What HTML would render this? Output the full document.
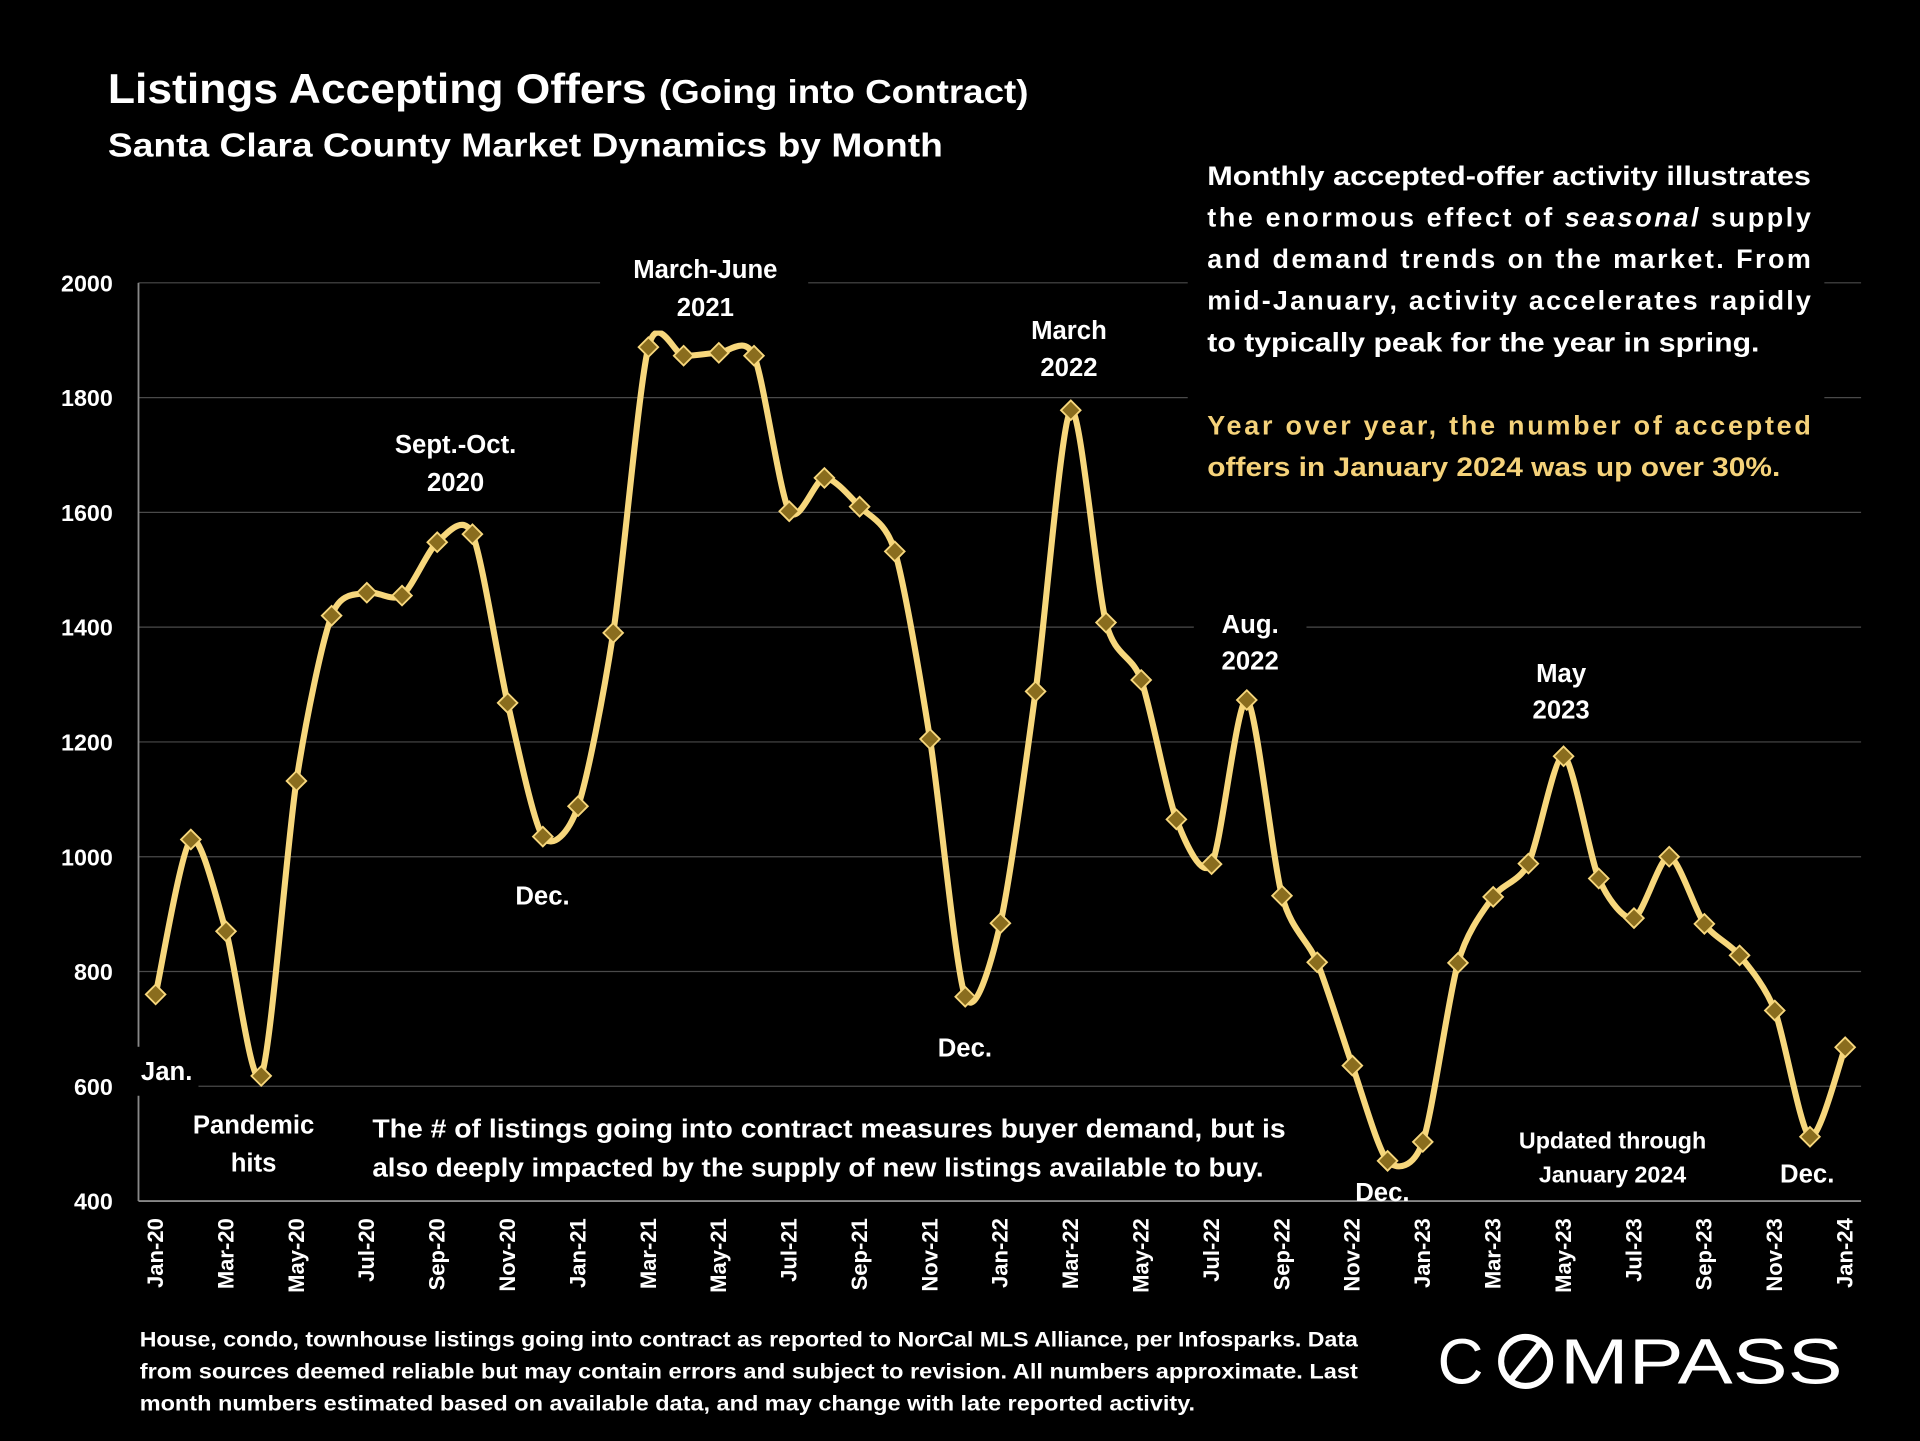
<!DOCTYPE html>
<html><head><meta charset="utf-8">
<style>
html,body{margin:0;padding:0;background:#000;}
svg{display:block;}
text{font-family:"Liberation Sans",sans-serif;font-weight:bold;fill:#fff;}
</style></head>
<body>
<svg id="chart" width="1920" height="1441" viewBox="0 0 1568 1177" xmlns="http://www.w3.org/2000/svg">
<rect width="1568" height="1177" fill="#000"/>
<text x="88" y="84" font-size="34"><tspan textLength="440" lengthAdjust="spacingAndGlyphs">Listings Accepting Offers</tspan><tspan x="538" font-size="27" textLength="302" lengthAdjust="spacingAndGlyphs">(Going into Contract)</tspan></text>
<text x="88" y="128" font-size="27" textLength="682" lengthAdjust="spacingAndGlyphs">Santa Clara County Market Dynamics by Month</text>
<g id="grid"></g>
<g id="yaxis"></g>
<g id="xaxis"></g>
<g id="series"></g>
<g font-size="21" text-anchor="middle">
 <rect x="490" y="200" width="170" height="70" fill="#000"/>
 <text x="576" y="227">March-June</text><text x="576" y="258">2021</text>
 <rect x="300" y="345" width="145" height="65" fill="#000"/>
 <text x="372" y="370">Sept.-Oct.</text><text x="372" y="401">2020</text>
 <rect x="820" y="250" width="110" height="65" fill="#000"/>
 <text x="873" y="277">March</text><text x="873" y="307">2022</text>
 <rect x="975" y="492" width="92" height="65" fill="#000"/>
 <text x="1021" y="517">Aug.</text><text x="1021" y="547">2022</text>
 <rect x="1235" y="532" width="80" height="65" fill="#000"/>
 <text x="1275" y="557">May</text><text x="1275" y="587">2023</text>
 <text x="443" y="739">Dec.</text>
 <text x="788" y="863">Dec.</text>
 <rect x="112" y="855" width="50" height="40" fill="#000"/>
 <text x="136" y="882">Jan.</text>
 <text x="207" y="926">Pandemic</text><text x="207" y="957">hits</text>
 <text x="1129" y="981">Dec.</text>
 <text x="1476" y="966">Dec.</text>
 <text x="1317" y="938" font-size="19">Updated through</text>
 <text x="1317" y="966" font-size="19">January 2024</text>
</g>
<g font-size="21">
 <rect x="298" y="900" width="760" height="75" fill="#000"/>
 <text x="304" y="929" textLength="746" lengthAdjust="spacingAndGlyphs">The # of listings going into contract measures buyer demand, but is</text>
 <text x="304" y="961" textLength="728" lengthAdjust="spacingAndGlyphs">also deeply impacted by the supply of new listings available to buy.</text>
</g>
<g font-size="22">
 <rect x="970" y="125" width="520" height="270" fill="#000"/>
 <text x="986" y="151" textLength="493" lengthAdjust="spacingAndGlyphs">Monthly accepted-offer activity illustrates</text>
 <text x="986" y="185" textLength="493" lengthAdjust="spacing">the enormous effect of <tspan font-style="italic">seasonal</tspan> supply</text>
 <text x="986" y="219" textLength="493" lengthAdjust="spacing">and demand trends on the market.  From</text>
 <text x="986" y="253" textLength="493" lengthAdjust="spacing">mid-January, activity accelerates rapidly</text>
 <text x="986" y="287" textLength="451" lengthAdjust="spacingAndGlyphs">to typically peak for the year in spring.</text>
 <text x="986" y="355" style="fill:#f5d27a" textLength="493" lengthAdjust="spacing">Year over year, the number of accepted</text>
 <text x="986" y="389" style="fill:#f5d27a" textLength="468" lengthAdjust="spacingAndGlyphs">offers in January 2024 was up over 30%.</text>
</g>
<g font-size="17">
 <text x="114" y="1100" textLength="995" lengthAdjust="spacingAndGlyphs">House, condo, townhouse listings going into contract as reported to NorCal MLS Alliance, per Infosparks. Data</text>
 <text x="114" y="1126" textLength="995" lengthAdjust="spacingAndGlyphs">from sources deemed reliable but may contain errors and subject to revision. All numbers approximate. Last</text>
 <text x="114" y="1152" textLength="862" lengthAdjust="spacingAndGlyphs">month numbers estimated based on available data, and may change with late reported activity.</text>
</g>
<g>
 <text x="1174" y="1130" font-size="52" style="font-weight:normal">C</text>
 <circle cx="1246" cy="1112" r="20" fill="none" stroke="#fff" stroke-width="5"/>
 <line x1="1234" y1="1127" x2="1258" y2="1097" stroke="#fff" stroke-width="5"/>
 <text x="1274" y="1130" font-size="52" style="font-weight:normal" textLength="231" lengthAdjust="spacingAndGlyphs">MPASS</text>
</g>
</svg>
<script>
const values = [760,1030,870,618,1132,1420,1460,1455,1548,1562,1268,1035,
 1088,1390,1888,1873,1878,1873,1602,1660,1610,1532,1205,756,
 884,1288,1778,1408,1308,1065,987,1273,932,816,636,470,
 503,815,930,988,1175,962,893,1000,883,828,732,512,668];
const monthNames = ["Jan","Feb","Mar","Apr","May","Jun","Jul","Aug","Sep","Oct","Nov","Dec"];
const yTicks = [400,600,800,1000,1200,1400,1600,1800,2000];
const startYear = 20;

const NS="http://www.w3.org/2000/svg";
const x0=127, dx=28.75, yTop=231, yBot=981, vMin=400, vMax=2000;
const xs = i => x0 + i*dx;
const ys = v => yBot - (v - vMin)/(vMax - vMin)*(yBot - yTop);
function mk(tag, attrs, parent){const e=document.createElementNS(NS,tag);for(const k in attrs)e.setAttribute(k,attrs[k]);parent.appendChild(e);return e;}

const grid=document.getElementById('grid'), yaxis=document.getElementById('yaxis'), xaxis=document.getElementById('xaxis'), series=document.getElementById('series');
yTicks.forEach(t=>{
  if(t>vMin){const l=mk('line',{x1:113,x2:1520,y1:ys(t),y2:ys(t),stroke:'#4a4a4a','stroke-width':1},grid);
  
  }
  const tx=mk('text',{x:92,y:ys(t)+7,'font-size':19,'text-anchor':'end'},yaxis);
  tx.textContent=t;
  
  
});
mk('line',{x1:113,x2:113,y1:yTop,y2:yBot,stroke:'#888','stroke-width':1.5},yaxis);
mk('line',{x1:113,x2:1520,y1:yBot,y2:yBot,stroke:'#888','stroke-width':1.5},xaxis);
values.forEach((v,i)=>{
  if(i%2===0){
    const lab=monthNames[i%12]+'-'+(startYear+Math.floor(i/12));
    const x=xs(i), y=995;
    const t=mk('text',{x:x, y:y, 'font-size':18,'text-anchor':'end',transform:`rotate(-90 ${x} ${y})`,dy:6},xaxis);
    t.textContent=lab;
    
    
  }
});
const pts=values.map((v,i)=>[xs(i),ys(v)]);
const k=1/7.5;
let d=`M${pts[0][0]},${pts[0][1]}`;
for(let i=0;i<pts.length-1;i++){
  const p0=pts[Math.max(0,i-1)],p1=pts[i],p2=pts[i+1],p3=pts[Math.min(pts.length-1,i+2)];
  const c1=[p1[0]+(p2[0]-p0[0])*k,p1[1]+(p2[1]-p0[1])*k];
  const c2=[p2[0]-(p3[0]-p1[0])*k,p2[1]-(p3[1]-p1[1])*k];
  d+=` C${c1[0]},${c1[1]} ${c2[0]},${c2[1]} ${p2[0]},${p2[1]}`;
}
const path=mk('path',{d:d,fill:'none',stroke:'#f7d77c','stroke-width':5,'stroke-linejoin':'round'},series);


pts.forEach((p,i)=>{
  const s=8;
  const m=mk('polygon',{points:`${p[0]},${p[1]-s} ${p[0]+s},${p[1]} ${p[0]},${p[1]+s} ${p[0]-s},${p[1]}`,fill:'#8a6d1e',stroke:'#f7d77c','stroke-width':1.5},series);
  
  
});
</script>
</body></html>
